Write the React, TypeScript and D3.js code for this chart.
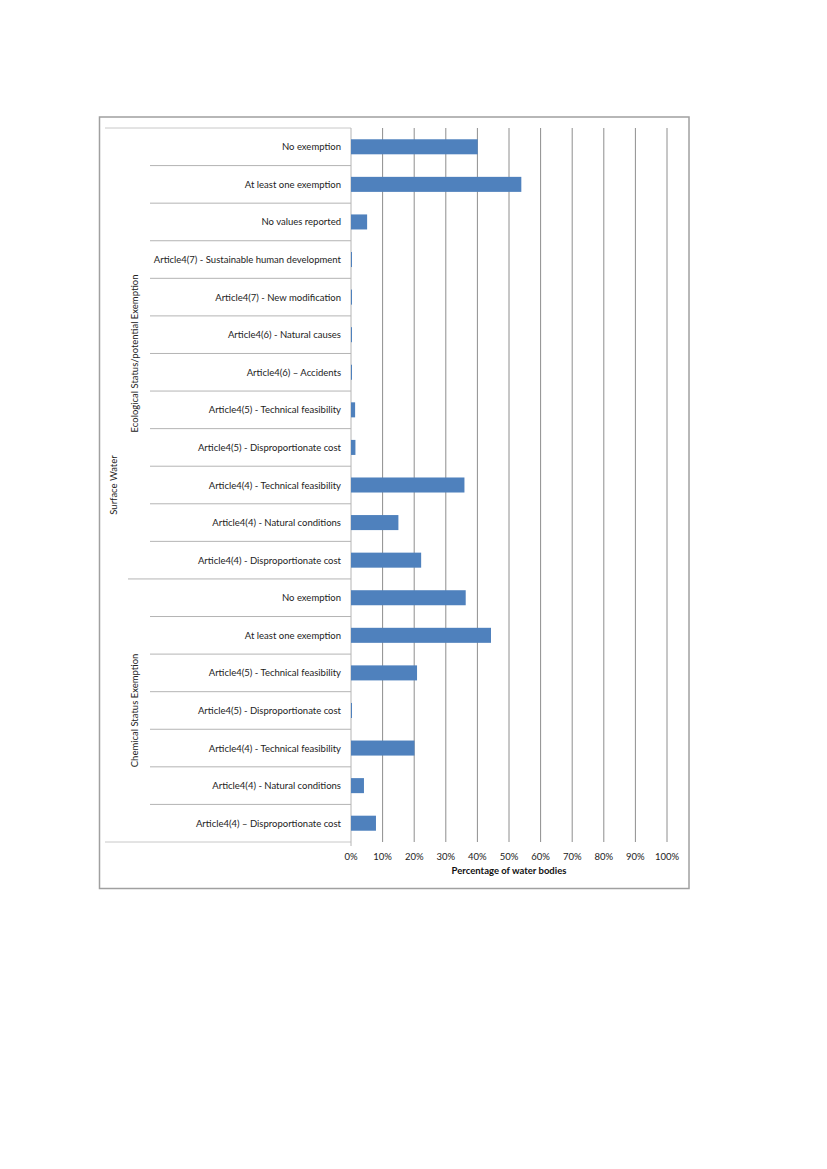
import React from 'react';
import * as d3 from 'd3';

// Values (percentage of water bodies)
const ecoCategories = [
  'No exemption',
  'At least one exemption',
  'No values reported',
  'Article4(7) - Sustainable human development',
  'Article4(7) - New modification',
  'Article4(6) - Natural causes',
  'Article4(6) – Accidents',
  'Article4(5) - Technical feasibility',
  'Article4(5) - Disproportionate cost',
  'Article4(4) - Technical feasibility',
  'Article4(4) - Natural conditions',
  'Article4(4) - Disproportionate cost',
];
const ecoValues = [40.1, 53.9, 5.1, 0.3, 0.3, 0.3, 0.3, 1.3, 1.4, 35.9, 15.0, 22.2];

const chemCategories = [
  'No exemption',
  'At least one exemption',
  'Article4(5) - Technical feasibility',
  'Article4(5) - Disproportionate cost',
  'Article4(4) - Technical feasibility',
  'Article4(4) - Natural conditions',
  'Article4(4) – Disproportionate cost',
];
const chemValues = [36.3, 44.3, 20.9, 0.3, 20.1, 4.1, 7.9];

const groups = ['Ecological Status/potential Exemption', 'Chemical Status Exemption'];
const topGroup = 'Surface Water';
const xTicks = [0, 10, 20, 30, 40, 50, 60, 70, 80, 90, 100];

const FONT = 'Lato, "Open Sans", sans-serif';

const App: React.FC = () => {
  const rows = [
    ...ecoCategories.map((c, i) => ({ id: `e${i}`, label: c, value: ecoValues[i], group: 0 })),
    ...chemCategories.map((c, i) => ({ id: `c${i}`, label: c, value: chemValues[i], group: 1 })),
  ];

  const plotTop = 128;
  const plotBottom = 842;
  const x = d3.scaleLinear().domain([0, 100]).range([351, 667]);
  const y = d3
    .scaleBand<string>()
    .domain(rows.map((r) => r.id))
    .range([plotTop, plotBottom])
    .paddingInner(0.6)
    .paddingOuter(0.3);
  const step = y.step();

  const groupStart = (g: number) => rows.findIndex((r) => r.group === g);
  const groupEnd = (g: number) => rows.length - 1 - [...rows].reverse().findIndex((r) => r.group === g);
  const rowTop = (i: number) => y(rows[i].id)! - y.bandwidth() * 0 - (step - y.bandwidth()) / 2;

  return (
    <svg
      width={827}
      height={1169}
      viewBox="0 0 827 1169"
      style={{ position: 'absolute', left: 0, top: 0, background: '#fff' }}
    >
      {/* frame */}
      <rect x={99.5} y={117} width={589.5} height={771.5} fill="#fff" stroke="#a0a0a0" strokeWidth={1.5} />

      {/* gridlines */}
      {xTicks.slice(1).map((t) => (
        <line key={t} x1={x(t)} x2={x(t)} y1={plotTop} y2={plotBottom} stroke="#8e8e8e" strokeWidth={1} />
      ))}

      {/* outer boundary lines of the category axis */}
      <line x1={105} x2={351} y1={plotTop} y2={plotTop} stroke="#c8c8c8" />
      <line x1={105} x2={351} y1={plotBottom} y2={plotBottom} stroke="#c8c8c8" />

      {/* row separators */}
      {rows.slice(1).map((r, i) => {
        const yy = rowTop(i + 1);
        const isGroupBreak = r.group !== rows[i].group;
        return (
          <line
            key={r.id}
            x1={isGroupBreak ? 128 : 150}
            x2={351}
            y1={yy}
            y2={yy}
            stroke="#b4b4b4"
            strokeWidth={1}
          />
        );
      })}

      {/* category axis line */}
      <line x1={351} x2={351} y1={plotTop} y2={plotBottom + 4} stroke="#b4b4b4" />

      {/* bars */}
      {rows.map((r) => (
        <rect
          key={r.id}
          x={x(0)}
          y={y(r.id)}
          width={Math.max(1, x(r.value) - x(0))}
          height={y.bandwidth()}
          fill="#4f81bd"
        />
      ))}

      {/* category labels */}
      {rows.map((r) => (
        <text
          key={r.id}
          x={341}
          y={y(r.id)! + y.bandwidth() / 2}
          textAnchor="end"
          dominantBaseline="central"
          fontFamily={FONT}
          fontSize={9.5}
          fill="#222"
        >
          {r.label}
        </text>
      ))}

      {/* group labels */}
      {groups.map((g, gi) => {
        const y0 = rowTop(groupStart(gi));
        const y1 = rowTop(groupEnd(gi)) + step;
        const cy = (y0 + y1) / 2;
        return (
          <text
            key={g}
            transform={`translate(134,${cy}) rotate(-90)`}
            textAnchor="middle"
            dominantBaseline="central"
            fontFamily={FONT}
            fontSize={9.5}
            fill="#222"
          >
            {g}
          </text>
        );
      })}
      <text
        transform={`translate(113,${(plotTop + plotBottom) / 2}) rotate(-90)`}
        textAnchor="middle"
        dominantBaseline="central"
        fontFamily={FONT}
        fontSize={9.5}
        fill="#222"
      >
        {topGroup}
      </text>

      {/* x tick labels */}
      {xTicks.map((t) => (
        <text
          key={t}
          x={x(t)}
          y={856}
          textAnchor="middle"
          dominantBaseline="central"
          fontFamily={FONT}
          fontSize={9.5}
          fill="#222"
        >
          {`${t}%`}
        </text>
      ))}

      {/* axis title */}
      <text
        x={509}
        y={870}
        textAnchor="middle"
        dominantBaseline="central"
        fontFamily={FONT}
        fontSize={9.5}
        fontWeight="bold"
        fill="#111"
      >
        Percentage of water bodies
      </text>
    </svg>
  );
};

export default App;
